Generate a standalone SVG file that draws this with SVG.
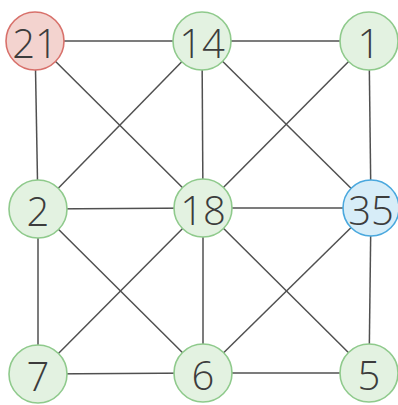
<svg xmlns="http://www.w3.org/2000/svg" width="398" height="405" viewBox="0 0 398 405">
<style>
.e{stroke:#505050;stroke-width:1.5;fill:none}
.n circle{stroke-width:1.6}
.g circle{fill:#e3f2e1;stroke:#8fca8c}
.r circle{fill:#f3d3cf;stroke:#d8716b}
.b circle{fill:#d7edf8;stroke:#4aa8de}
.n text{font-family:"Open Sans","Liberation Sans",sans-serif;font-weight:300;font-size:40px;fill:#3c3c3c;text-anchor:middle;dominant-baseline:central}
</style>
<rect width="398" height="405" fill="#ffffff"/>
<g id="connectors">
<line class="e" x1="35" y1="41" x2="202" y2="41"/>
<line class="e" x1="202" y1="41" x2="369" y2="41"/>
<line class="e" x1="38" y1="209" x2="203" y2="208"/>
<line class="e" x1="203" y1="208" x2="371" y2="208"/>
<line class="e" x1="38" y1="374" x2="203" y2="373"/>
<line class="e" x1="203" y1="373" x2="369" y2="373"/>
<line class="e" x1="35" y1="41" x2="38" y2="209"/>
<line class="e" x1="38" y1="209" x2="38" y2="374"/>
<line class="e" x1="202" y1="41" x2="203" y2="208"/>
<line class="e" x1="203" y1="208" x2="203" y2="373"/>
<line class="e" x1="369" y1="41" x2="371" y2="208"/>
<line class="e" x1="371" y1="208" x2="369" y2="373"/>
<line class="e" x1="35" y1="41" x2="203" y2="208"/>
<line class="e" x1="202" y1="41" x2="38" y2="209"/>
<line class="e" x1="202" y1="41" x2="371" y2="208"/>
<line class="e" x1="369" y1="41" x2="203" y2="208"/>
<line class="e" x1="38" y1="209" x2="203" y2="373"/>
<line class="e" x1="203" y1="208" x2="38" y2="374"/>
<line class="e" x1="203" y1="208" x2="369" y2="373"/>
<line class="e" x1="371" y1="208" x2="203" y2="373"/>
</g>
<g id="n21" class="n r"><circle cx="35" cy="41" r="29"/><text x="35" y="42">21</text></g>
<g id="n14" class="n g"><circle cx="202" cy="41" r="29"/><text x="202" y="42">14</text></g>
<g id="n1" class="n g"><circle cx="369" cy="41" r="29"/><text x="369" y="42">1</text></g>
<g id="n2" class="n g"><circle cx="38" cy="209" r="29"/><text x="38" y="210">2</text></g>
<g id="n18" class="n g"><circle cx="203" cy="208" r="29"/><text x="203" y="209">18</text></g>
<g id="n35" class="n b"><circle cx="371" cy="208" r="28"/><text x="371" y="209">35</text></g>
<g id="n7" class="n g"><circle cx="38" cy="374" r="29"/><text x="38" y="375">7</text></g>
<g id="n6" class="n g"><circle cx="203" cy="373" r="29"/><text x="203" y="374">6</text></g>
<g id="n5" class="n g"><circle cx="369" cy="373" r="29"/><text x="369" y="374">5</text></g>
</svg>
